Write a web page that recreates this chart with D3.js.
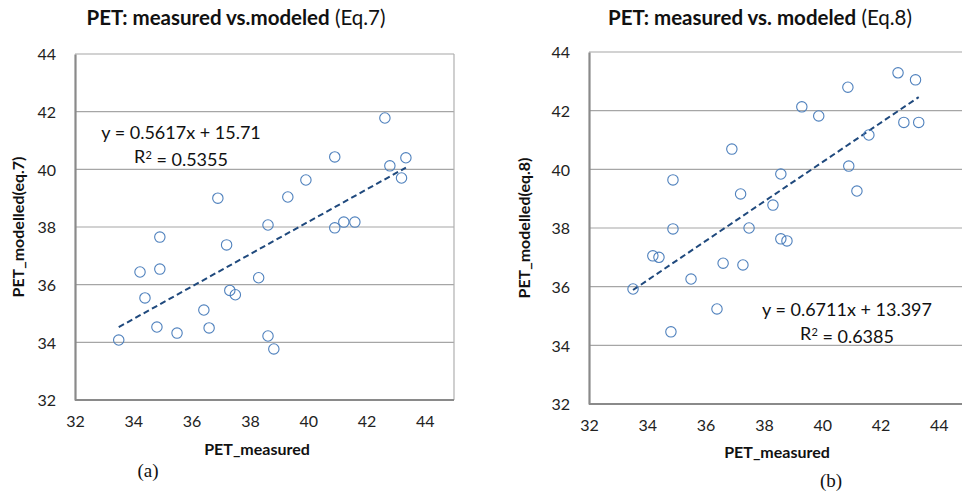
<!DOCTYPE html>
<html>
<head>
    <meta charset="UTF-8">
    <title>PET measured vs modelled</title>
    <style>
        body { margin: 0; background: #fff; }
        svg { display: block; }
    </style>
</head>
<body>
    <svg></svg>
    <script src="https://d3js.org/d3.v7.min.js"></script>
    <script>

        // measured vs modelled PET
        let measuredA = [36.9, 34.91, 37.2, 34.23, 34.91, 34.4, 34.81, 35.5, 33.5, 36.42, 36.6, 37.31, 37.5, 38.3,
                         38.62, 38.82, 42.63, 40.91, 43.35, 42.8, 43.2, 39.92, 39.3, 38.62, 40.91, 41.22, 41.6];
        let modelledA = [39.0, 37.65, 37.38, 36.44, 36.54, 35.54, 34.53, 34.32, 34.08, 35.12, 34.5, 35.8, 35.65, 36.24,
                         34.22, 33.77, 41.78, 40.43, 40.4, 40.12, 39.7, 39.63, 39.04, 38.07, 37.97, 38.17, 38.17];

        let measuredB = [40.88, 42.6, 43.2, 36.9, 34.88, 37.2, 34.88, 39.3, 39.88, 42.8, 43.31, 41.6, 40.91, 41.19,
                         38.58, 38.31, 37.49, 38.58, 38.79, 34.19, 34.4, 33.51, 35.5, 36.39, 34.81, 36.6, 37.28];
        let modelledB = [42.8, 43.29, 43.05, 40.69, 39.64, 39.16, 37.97, 42.13, 41.82, 41.6, 41.6, 41.17, 40.11, 39.26,
                         39.84, 38.78, 38.0, 37.63, 37.56, 37.05, 37.0, 35.92, 36.26, 35.24, 34.46, 36.8, 36.74];

        let xTicks = [32, 34, 36, 38, 40, 42, 44];
        let yTicks = [32, 34, 36, 38, 40, 42, 44];

        let width = 962, height = 493;
        let font = "Lato, 'Open Sans', sans-serif";

        let svg = d3.select("svg")
            .attr("width", width)
            .attr("height", height)
            .style("font-family", font);

        function drawChart(cfg) {
            let x = d3.scaleLinear().domain([32, 45]).range([cfg.left, cfg.left + 379]);
            let y = d3.scaleLinear().domain([32, 44]).range([cfg.bottom, cfg.top]);
            let g = svg.append("g");

            // horizontal gridlines
            g.selectAll(".grid")
                .data(yTicks.slice(1))
                .enter()
                .append("line")
                .attr("x1", x(32)).attr("x2", x(45))
                .attr("y1", d => y(d)).attr("y2", d => y(d))
                .attr("stroke", "#a6a6a6")
                .attr("stroke-width", 1.2);

            // right border of plot box
            g.append("line")
                .attr("x1", x(45)).attr("x2", x(45))
                .attr("y1", y(44)).attr("y2", y(32))
                .attr("stroke", "#b0b0b0")
                .attr("stroke-width", 1.2);

            // axes
            let yAxis = g.append("g")
                .attr("transform", "translate(" + x(32) + ",0)")
                .call(d3.axisLeft(y).tickValues(yTicks).tickSize(0).tickPadding(19));
            let xAxis = g.append("g")
                .attr("transform", "translate(0," + y(32) + ")")
                .call(d3.axisBottom(x).tickValues(xTicks).tickSize(0).tickPadding(16));
            [xAxis, yAxis].forEach(a => {
                a.select(".domain").attr("stroke", "#8a8a8a").attr("stroke-width", 2.2);
                a.selectAll("text")
                    .style("font-family", font)
                    .style("font-size", "16px")
                    .attr("fill", "#222");
            });
            yAxis.selectAll("text").attr("dy", "0.36em");
            xAxis.select(".domain").attr("d", "M" + x(32) + ",0H" + x(45));

            // trend line
            let xs = d3.extent(cfg.xs);
            g.append("line")
                .attr("x1", x(xs[0])).attr("y1", y(cfg.slope * xs[0] + cfg.intercept))
                .attr("x2", x(xs[1])).attr("y2", y(cfg.slope * xs[1] + cfg.intercept))
                .attr("stroke", "#1f497d")
                .attr("stroke-width", 2)
                .attr("stroke-dasharray", "6,3.5");

            // points
            g.selectAll("circle")
                .data(cfg.xs.map((v, i) => [v, cfg.ys[i]]))
                .enter()
                .append("circle")
                .attr("cx", d => x(d[0]))
                .attr("cy", d => y(d[1]))
                .attr("r", 5.2)
                .attr("fill", "none")
                .attr("stroke", "#4f81bd")
                .attr("stroke-width", 1.1);

            // title
            let t = svg.append("text")
                .attr("x", cfg.titleX)
                .attr("y", 25)
                .attr("text-anchor", "middle")
                .style("font-size", "20.5px")
                .attr("fill", "#111");
            t.append("tspan").style("font-weight", "bold").text(cfg.title);
            t.append("tspan").text(" " + cfg.eq);

            // axis titles
            svg.append("text")
                .attr("transform", "translate(" + cfg.yLabelX + "," + ((cfg.top + cfg.bottom) / 2) + ") rotate(-90)")
                .attr("text-anchor", "middle")
                .style("font-size", "16px")
                .style("font-weight", "bold")
                .attr("fill", "#111")
                .text(cfg.yLabel);
            svg.append("text")
                .attr("x", cfg.xLabelX)
                .attr("y", cfg.xLabelY)
                .attr("text-anchor", "middle")
                .style("font-size", "16px")
                .style("font-weight", "bold")
                .attr("fill", "#111")
                .text("PET_measured");

            // regression text
            let eqText = svg.append("text")
                .attr("text-anchor", "middle")
                .style("font-size", "18px")
                .attr("fill", "#111");
            eqText.append("tspan")
                .attr("x", cfg.eqX).attr("y", cfg.eqY)
                .text("y = " + cfg.slope + "x + " + cfg.intercept);
            let r2 = eqText.append("tspan")
                .attr("x", cfg.eqX).attr("y", cfg.eqY + 24);
            r2.append("tspan").text("R");
            r2.append("tspan").attr("dy", "-0.4em").style("font-size", "11px").text("2");
            r2.append("tspan").attr("dy", "0.4em").text(" = " + cfg.r2);

            // sub-figure letter
            svg.append("text")
                .attr("x", cfg.letterX)
                .attr("y", cfg.letterY)
                .attr("text-anchor", "middle")
                .style("font-family", "'Liberation Serif', 'Times New Roman', serif")
                .style("font-size", "19px")
                .attr("fill", "#111")
                .text(cfg.letter);
        }

        drawChart({
            xs: measuredA, ys: modelledA,
            left: 75, top: 54, bottom: 400,
            slope: 0.5617, intercept: 15.71, r2: "0.5355",
            title: "PET: measured vs.modeled", eq: "(Eq.7)", titleX: 236,
            yLabel: "PET_modelled(eq.7)", yLabelX: 24,
            xLabelX: 257, xLabelY: 455,
            eqX: 181, eqY: 139,
            letter: "(a)", letterX: 148, letterY: 477
        });

        drawChart({
            xs: measuredB, ys: modelledB,
            left: 589, top: 52, bottom: 404,
            slope: 0.6711, intercept: 13.397, r2: "0.6385",
            title: "PET: measured vs. modeled", eq: "(Eq.8)", titleX: 760,
            yLabel: "PET_modelled(eq.8)", yLabelX: 530,
            xLabelX: 777, xLabelY: 458,
            eqX: 847, eqY: 316,
            letter: "(b)", letterX: 831, letterY: 487
        });

    </script>
</body>
</html>
